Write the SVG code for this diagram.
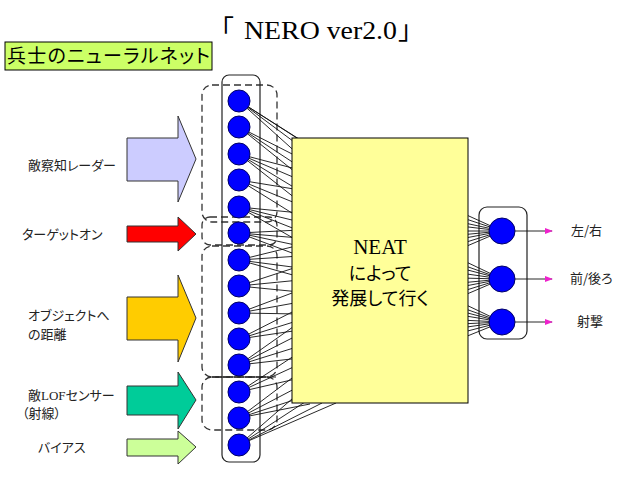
<svg xmlns="http://www.w3.org/2000/svg" width="638" height="479" viewBox="0 0 638 479">
<style>
.jp{font-family:"Noto Sans CJK JP","Noto Sans",sans-serif;font-feature-settings:"palt";fill:#222}
.lbl{font-size:13px}
.serif{font-family:"Liberation Serif","Noto Sans CJK JP",serif;fill:#000}
.grp{fill:none;stroke:#333;stroke-width:1.3;stroke-dasharray:7,4}
.col{fill:none;stroke:#222;stroke-width:1.2}
.n{fill:#0000ff;stroke:#000066;stroke-width:1}
.c line{stroke:#111;stroke-width:0.9}
.blk{stroke:#333;stroke-width:1}
.out{stroke:#ee22cc;stroke-width:1.5;marker-end:url(#ah)}
</style>
<defs>
<marker id="ah" markerWidth="8" markerHeight="8" refX="7" refY="4" orient="auto" markerUnits="userSpaceOnUse">
<path d="M0,1 L8,4 L0,7 Z" fill="#ee22cc"/>
</marker>
</defs>
<rect width="638" height="479" fill="#fff"/>

<g id="title">
<text x="208" y="39" font-size="26" font-family="Noto Sans CJK JP, sans-serif" fill="#000">「</text>
<text class="serif" x="244" y="39" font-size="26" textLength="153" lengthAdjust="spacingAndGlyphs">NERO ver2.0</text>
<text x="398" y="39" font-size="26" font-family="Noto Sans CJK JP, sans-serif" fill="#000">」</text>
</g>

<g id="net-label">
<rect x="5" y="42" width="207" height="28" fill="#ccff66" stroke="#000" stroke-width="1"/>
<text class="jp" x="7" y="63" font-size="19" textLength="203" style="fill:#000">兵士のニューラルネット</text>
</g>

<g id="groups">
<rect class="grp" x="202" y="85" width="75" height="137" rx="10"/>
<rect class="grp" x="202" y="217" width="75" height="28" rx="8"/>
<rect class="grp" x="202" y="246" width="75" height="131" rx="10"/>
<rect class="grp" x="202" y="377" width="75" height="53" rx="10"/>
<line x1="212" y1="377" x2="276" y2="377" stroke="#222" stroke-width="1.2"/>
</g>

<g id="input-column"><rect class="col" x="222" y="75" width="38" height="387" rx="7"/></g>
<g id="output-column"><rect class="col" x="479" y="207" width="48" height="132" rx="8"/></g>

<g id="connectors" class="c">
<line x1="239" y1="101" x2="300" y2="140"/><line x1="239" y1="101" x2="310" y2="146"/><line x1="239" y1="101" x2="305" y2="150"/><line x1="239" y1="101" x2="300" y2="156"/>
<line x1="239" y1="127" x2="300" y2="158"/><line x1="239" y1="127" x2="300" y2="167"/><line x1="239" y1="127" x2="300" y2="176"/>
<line x1="239" y1="154" x2="300" y2="170"/><line x1="239" y1="154" x2="300" y2="180"/><line x1="239" y1="154" x2="300" y2="191"/><line x1="239" y1="154" x2="300" y2="202"/>
<line x1="239" y1="180" x2="300" y2="190"/><line x1="239" y1="180" x2="300" y2="205"/><line x1="239" y1="180" x2="300" y2="218"/>
<line x1="239" y1="207" x2="300" y2="213"/><line x1="239" y1="207" x2="300" y2="222"/><line x1="239" y1="207" x2="300" y2="231"/><line x1="239" y1="207" x2="300" y2="242"/>
<line x1="239" y1="233" x2="300" y2="230"/><line x1="239" y1="233" x2="300" y2="238"/><line x1="239" y1="233" x2="300" y2="246"/><line x1="239" y1="233" x2="300" y2="256"/>
<line x1="239" y1="260" x2="300" y2="245"/><line x1="239" y1="260" x2="300" y2="256"/><line x1="239" y1="260" x2="300" y2="268"/><line x1="239" y1="260" x2="300" y2="277"/>
<line x1="239" y1="286" x2="300" y2="266"/><line x1="239" y1="286" x2="300" y2="280"/><line x1="239" y1="286" x2="300" y2="292"/>
<line x1="239" y1="313" x2="300" y2="290"/><line x1="239" y1="313" x2="300" y2="302"/><line x1="239" y1="313" x2="300" y2="314"/>
<line x1="239" y1="339" x2="300" y2="308"/><line x1="239" y1="339" x2="300" y2="320"/><line x1="239" y1="339" x2="300" y2="330"/>
<line x1="239" y1="365" x2="300" y2="322"/><line x1="239" y1="365" x2="300" y2="334"/><line x1="239" y1="365" x2="300" y2="346"/><line x1="239" y1="365" x2="300" y2="358"/>
<line x1="239" y1="392" x2="300" y2="352"/><line x1="239" y1="392" x2="300" y2="364"/><line x1="239" y1="392" x2="300" y2="378"/>
<line x1="239" y1="418" x2="300" y2="372"/><line x1="239" y1="418" x2="300" y2="386"/><line x1="239" y1="418" x2="300" y2="398"/><line x1="239" y1="418" x2="310" y2="404"/>
<line x1="239" y1="445" x2="300" y2="392"/><line x1="239" y1="445" x2="305" y2="402"/><line x1="239" y1="445" x2="322" y2="403"/><line x1="239" y1="445" x2="336" y2="403"/>
<line x1="460" y1="212" x2="502" y2="231"/><line x1="460" y1="217" x2="502" y2="231"/><line x1="460" y1="222" x2="502" y2="231"/><line x1="460" y1="226" x2="502" y2="231"/><line x1="460" y1="231" x2="502" y2="231"/><line x1="460" y1="235" x2="502" y2="231"/><line x1="460" y1="239" x2="502" y2="231"/><line x1="460" y1="244" x2="502" y2="231"/><line x1="460" y1="249" x2="502" y2="231"/>
<line x1="460" y1="259" x2="502" y2="279"/><line x1="460" y1="264" x2="502" y2="279"/><line x1="460" y1="268" x2="502" y2="279"/><line x1="460" y1="273" x2="502" y2="279"/><line x1="460" y1="278" x2="502" y2="279"/><line x1="460" y1="283" x2="502" y2="279"/><line x1="460" y1="287" x2="502" y2="279"/><line x1="460" y1="292" x2="502" y2="279"/><line x1="460" y1="297" x2="502" y2="279"/>
<line x1="460" y1="302" x2="502" y2="322"/><line x1="460" y1="307" x2="502" y2="322"/><line x1="460" y1="311" x2="502" y2="322"/><line x1="460" y1="315" x2="502" y2="322"/><line x1="460" y1="320" x2="502" y2="322"/><line x1="460" y1="324" x2="502" y2="322"/><line x1="460" y1="328" x2="502" y2="322"/><line x1="460" y1="333" x2="502" y2="322"/><line x1="460" y1="339" x2="502" y2="322"/>
<line class="out" x1="515" y1="231" x2="552" y2="231"/>
<line class="out" x1="515" y1="279" x2="552" y2="279"/>
<line class="out" x1="515" y1="322" x2="552" y2="322"/>
</g>

<g id="neat">
<rect x="292" y="138" width="176" height="265" fill="#ffff99" stroke="#000" stroke-width="1"/>
<text class="serif" x="380" y="254" font-size="21" text-anchor="middle">NEAT</text>
<text class="jp" x="380" y="280" font-size="18" text-anchor="middle" style="fill:#000">によって</text>
<text class="jp" x="380" y="305" font-size="18" text-anchor="middle" style="fill:#000">発展して行く</text>
</g>

<g id="in-radar">
<path class="blk" d="M127,138 H178 V116 L196,159 L178,202 V181 H127 Z" fill="#ccccff"/>
<text class="jp lbl" x="28" y="170">敵察知レーダー</text>
</g>
<g id="in-target">
<path class="blk" d="M127,226 H178 V217 L196,234 L178,251 V242 H127 Z" fill="#ff0000" stroke="#880000"/>
<text class="jp lbl" x="22" y="239">ターゲットオン</text>
</g>
<g id="in-object">
<path class="blk" d="M127,297 H178 V275 L196,318 L178,362 V340 H127 Z" fill="#ffcc00"/>
<text class="jp lbl" x="28" y="320">オブジェクトへ</text>
<text class="jp lbl" x="28" y="339">の距離</text>
</g>
<g id="in-lof">
<path class="blk" d="M127,386 H178 V372 L196,400 L178,429 V415 H127 Z" fill="#00cc99"/>
<text class="jp lbl" x="28" y="400">敵<tspan font-family="Liberation Serif, serif">LOF</tspan>センサー</text>
<text class="jp lbl" x="22" y="418">（射線）</text>
</g>
<g id="in-bias">
<path class="blk" d="M127,439 H178 V431 L196,447 L178,464 V456 H127 Z" fill="#ccff99"/>
<text class="jp lbl" x="38" y="452">バイアス</text>
</g>

<g id="input-nodes">
<circle id="i1" class="n" cx="239" cy="101" r="11"/>
<circle id="i2" class="n" cx="239" cy="127" r="11"/>
<circle id="i3" class="n" cx="239" cy="154" r="11"/>
<circle id="i4" class="n" cx="239" cy="180" r="11"/>
<circle id="i5" class="n" cx="239" cy="207" r="11"/>
<circle id="i6" class="n" cx="239" cy="233" r="11"/>
<circle id="i7" class="n" cx="239" cy="260" r="11"/>
<circle id="i8" class="n" cx="239" cy="286" r="11"/>
<circle id="i9" class="n" cx="239" cy="313" r="11"/>
<circle id="i10" class="n" cx="239" cy="339" r="11"/>
<circle id="i11" class="n" cx="239" cy="365" r="11"/>
<circle id="i12" class="n" cx="239" cy="392" r="11"/>
<circle id="i13" class="n" cx="239" cy="418" r="11"/>
<circle id="i14" class="n" cx="239" cy="445" r="11"/>
</g>

<g id="out-lr">
<circle class="n" cx="502" cy="231" r="13"/>
<text class="jp lbl" x="571" y="235">左/右</text>
</g>
<g id="out-fb">
<circle class="n" cx="502" cy="279" r="13"/>
<text class="jp lbl" x="570" y="283">前/後ろ</text>
</g>
<g id="out-shoot">
<circle class="n" cx="502" cy="322" r="13"/>
<text class="jp lbl" x="577" y="326">射撃</text>
</g>
</svg>
